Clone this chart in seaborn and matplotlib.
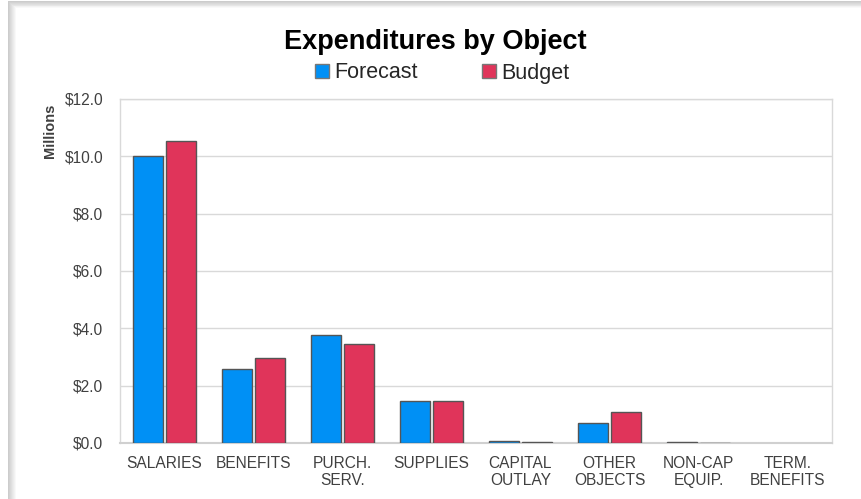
import numpy as np
import pandas as pd
import matplotlib.pyplot as plt
import matplotlib.patches as mpatches
import seaborn as sns

sns.set_theme(style="white")
plt.rcParams["font.family"] = ["Liberation Sans", "DejaVu Sans"]

# Data (millions of dollars)
categories = ["SALARIES", "BENEFITS", "PURCH.\nSERV.", "SUPPLIES",
              "CAPITAL\nOUTLAY", "OTHER\nOBJECTS", "NON-CAP\nEQUIP.", "TERM.\nBENEFITS"]
forecast = [10.0, 2.58, 3.78, 1.47, 0.07, 0.71, 0.03, 0.0]
budget = [10.52, 2.95, 3.45, 1.47, 0.03, 1.08, 0.01, 0.0]
series = ["Forecast", "Budget"]
colors = ["#0090F5", "#E0345A"]

df = pd.DataFrame({
    "category": categories * 2,
    "value": forecast + budget,
    "series": [series[0]] * len(categories) + [series[1]] * len(categories),
})

fig = plt.figure(figsize=(8.62, 4.99), dpi=100)
fig.patch.set_facecolor("white")

# soft shadow round the chart panel (top and left)
for i in range(8):
    g = 0.80 + i * 0.025
    fig.patches.append(mpatches.Rectangle(
        ((8 + i) / 862, 0), 1, 1 - (1 + i * 0.9) / 499,
        transform=fig.transFigure, facecolor=(g, g, g), edgecolor="none", zorder=-10))
fig.patches.append(mpatches.Rectangle(
    (16 / 862, 0), 1, 1 - 8 / 499,
    transform=fig.transFigure, facecolor="white", edgecolor="none", zorder=-9))

ax = fig.add_axes([120 / 862, 1 - 443 / 499, 712 / 862, 344 / 499])
ax.patch.set_alpha(0)

sns.barplot(data=df, x="category", y="value", hue="series", palette=colors,
            width=0.74, gap=0.1, edgecolor="#555555", linewidth=1.0,
            saturation=1, ax=ax, legend=True, zorder=3)

# empty categories show no outline
for bar in ax.patches:
    if bar.get_height() == 0:
        bar.set_linewidth(0)

ax.set_xlim(-0.5, len(categories) - 0.5)
ax.set_ylim(0, 12)
ax.set_yticks(np.arange(0, 12.1, 2))
ax.set_yticklabels([f"${v:.1f}" for v in np.arange(0, 12.1, 2)])
ax.set_xlabel("")
ax.set_ylabel("")
ax.grid(axis="y", color="#d9d9d9", linewidth=1.0, zorder=0)
ax.set_axisbelow(True)
for side in ["left", "right", "top", "bottom"]:
    ax.spines[side].set_color("#d9d9d9")
    ax.spines[side].set_linewidth(1.0)
ax.spines["bottom"].set_color("#d0d0d0")
ax.spines["bottom"].set_linewidth(1.5)
ax.tick_params(axis="both", length=0, labelsize=11.2, labelcolor="#404040")
ax.tick_params(axis="x", pad=9)
ax.tick_params(axis="y", pad=12)

handles, labels = ax.get_legend_handles_labels()
ax.get_legend().remove()
for h in handles:
    h.set_edgecolor("#777777")
    h.set_linewidth(1.0)
fig.legend(handles, labels, loc="center", bbox_to_anchor=(0.513, 1 - 73 / 499),
           ncol=2, frameon=False, fontsize=15.5, handlelength=0.65, handleheight=0.65,
           handletextpad=0.25, columnspacing=3.0)

fig.text(0.505, 1 - 42 / 499, "Expenditures by Object", ha="center", va="center",
         fontsize=19.5, fontweight="bold", color="black")
fig.text(50 / 862, 1 - 131 / 499, "Millions", rotation=90, ha="center", va="center",
         fontsize=10.5, fontweight="bold", color="#404040")

fig.savefig("out.png", dpi=100)
